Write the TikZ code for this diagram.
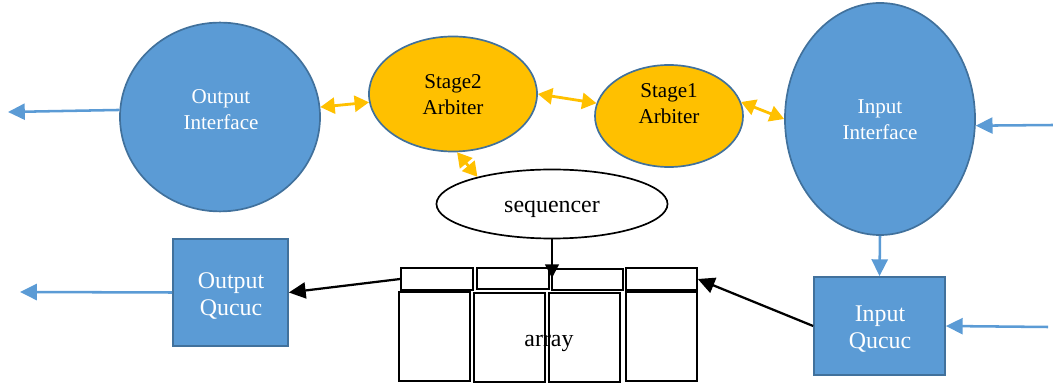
\documentclass[tikz,border=0pt]{standalone}
\usepackage{fontspec}
\setmainfont{Liberation Serif}
\usetikzlibrary{shapes.geometric,arrows.meta}
\definecolor{ifblue}{HTML}{5B9BD5}
\definecolor{ifedge}{HTML}{41719C}
\definecolor{arbgold}{HTML}{FFC000}
\begin{document}
\begin{tikzpicture}[x=0.025cm,y=-0.025cm,
  iface/.style={ellipse,draw=ifedge,line width=1.2pt,fill=ifblue,inner sep=0pt},
  arbiter/.style={ellipse,draw=ifedge,line width=1.2pt,fill=arbgold,inner sep=0pt},
  queuebox/.style={rectangle,draw=ifedge,line width=1.2pt,fill=ifblue,inner sep=0pt},
  midtext/.style={align=center,inner sep=0pt,font=\fontsize{15}{18.5}\selectfont},
  bigtext/.style={align=center,inner sep=0pt,font=\fontsize{17}{19.5}\selectfont},
  cell/.style={rectangle,draw=black,line width=1.1pt,inner sep=0pt},
  bluearrow/.style={-{Triangle[length=0.42cm,width=0.4cm]},ifblue,line width=1.8pt},
  goldarrow/.style={{Triangle[length=0.36cm,width=0.4cm]}-{Triangle[length=0.36cm,width=0.4cm]},arbgold,line width=2pt},
  blackarrow/.style={-{Triangle[length=0.42cm,width=0.4cm]},black,line width=1.6pt}]
\useasboundingbox (0,0) rectangle (1053,385);
% interfaces and arbiters
\node[iface,minimum width=5cm,minimum height=4.72cm] (outif) at (220,117) {};
\node[midtext,text=white] (outiftext) at (221,110) {Output\\Interface};
\node[arbiter,minimum width=4.2cm,minimum height=2.875cm] (stagetwo) at (453,94) {};
\node[midtext] (stagetwotext) at (453,95) {Stage2\\Arbiter};
\node[arbiter,minimum width=3.7cm,minimum height=2.55cm] (stageone) at (669,116) {};
\node[midtext] (stageonetext) at (669,104) {Stage1\\Arbiter};
\node[iface,minimum width=4.75cm,minimum height=5.8cm] (inif) at (880,119) {};
\node[midtext,text=white] (iniftext) at (880,120) {Input\\Interface};
\node[ellipse,draw,line width=1.2pt,fill=white,inner sep=0pt,minimum width=5.775cm,minimum height=1.725cm] (seq) at (552,204) {};
\node[bigtext] (seqtext) at (552,209) {sequencer};
% queues
\node[queuebox,minimum width=2.875cm,minimum height=2.675cm] (outq) at (230.5,292.5) {};
\node[bigtext,text=white] (outqtext) at (231,296) {Output\\Qucuc};
\node[queuebox,minimum width=3.275cm,minimum height=2.45cm] (inq) at (879.5,326) {};
\node[bigtext,text=white] (inqtext) at (880,329) {Input\\Qucuc};
% the array
\node[cell,minimum width=1.8cm,minimum height=0.55cm] (top1) at (437,279) {};
\node[cell,minimum width=1.8cm,minimum height=0.525cm] (top2) at (513,278.5) {};
\node[cell,minimum width=1.775cm,minimum height=0.525cm] (top3) at (587.5,279.5) {};
\node[cell,minimum width=1.775cm,minimum height=0.55cm] (top4) at (661.5,279) {};
\node[cell,minimum width=1.775cm,minimum height=2.225cm] (cell1) at (434.5,336.5) {};
\node[cell,minimum width=1.775cm,minimum height=2.225cm] (cell2) at (509.5,337.5) {};
\node[cell,minimum width=1.775cm,minimum height=2.225cm] (cell3) at (584.5,337.5) {};
\node[cell,minimum width=1.775cm,minimum height=2.225cm] (cell4) at (661.5,336.5) {};
\node[bigtext] (arr) at (549,343) {array};
% free ends
\coordinate (outend) at (8,112);
\coordinate (outqend) at (20,292);
\coordinate (inbeg) at (1053,125);
\coordinate (inqbeg) at (1048,327);
\coordinate (seqend) at (552,278);
% data flow
\draw[bluearrow] (outif.176) -- (outend);
\draw[bluearrow] (outq.west) -- (outqend);
\draw[bluearrow] (inbeg) -- (inif.-4);
\draw[bluearrow] (inqbeg) -- (inq.east);
\draw[bluearrow] (inif.south) -- (inq.north);
\draw[blackarrow] (top1.west) -- (outq.east);
\draw[blackarrow] (inq.west) -- (top4.east);
\draw[blackarrow,-{Triangle[length=0.34cm,width=0.34cm]}] (seq.south) -- (seqend);
% arbitration
\draw[goldarrow] (outif) -- (stagetwo);
\draw[goldarrow] (stagetwo.0) -- (stageone.170);
\draw[goldarrow] (stageone.11) -- (inif.180);
\draw[goldarrow] (stagetwo.274) -- (seq.160);
\end{tikzpicture}
\end{document}
